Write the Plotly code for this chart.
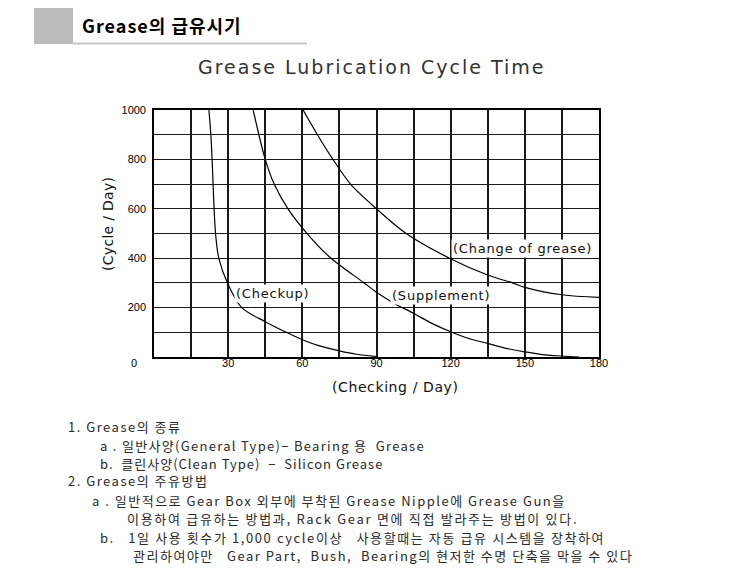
import plotly.graph_objects as go

# ---------------- data ----------------
checkup_days = [22.2, 23.0, 23.5, 23.9, 24.3, 24.9, 26.2, 29.7, 35.5, 45.0, 53.5, 60.0, 67.0, 75.0, 82.0, 90.0]
checkup_cycles = [1000, 900, 800, 700, 600, 500, 400, 300, 200, 143, 100, 70, 45, 25, 11, 2]

supplement_days = [40.1, 45.0, 48.6, 54.2, 61.5, 71.0, 85.0, 90.0, 97.0, 105.0, 112.0, 120.0, 127.0, 135.0, 142.0, 150.0, 157.0, 165.0, 172.0]
supplement_cycles = [1000, 800, 700, 600, 505, 405, 300, 262, 218, 177, 138, 102, 76, 55, 36, 21, 10, 4, 0]

change_days = [60.3, 66.1, 72.4, 79.5, 90.0, 102.0, 119.5, 135.0, 145.0, 150.0, 165.0, 180.0]
change_cycles = [1000, 900, 800, 700, 600, 500, 400, 332, 300, 282, 252, 241]

x_grid = list(range(0, 181, 15))
x_labels = ["", "", "30", "", "60", "", "90", "", "120", "", "150", "", "180"]
y_grid = list(range(0, 1001, 100))
y_labels = ["", "", "200", "", "400", "", "600", "", "800", "", "1000"]

series_labels = ["(Checkup)", "(Supplement)", "(Change of grease)"]
label_pos = [(48, 259), (116, 251), (149, 441)]

header_text = "Grease의 급유시기"
chart_title = "Grease Lubrication Cycle Time"
x_title = "(Checking / Day)"
y_title = "(Cycle / Day)"

NB = "\u00a0"
notes = [
    "1. Grease의 종류",
    "a . 일반사양(General Type)− Bearing 용" + NB * 2 + "Grease",
    "b." + NB * 2 + "클린사양(Clean Type)" + NB * 2 + "−" + NB * 2 + "Silicon Grease",
    "2. Grease의 주유방법",
    "a . 일반적으로 Gear Box 외부에 부착된 Grease Nipple에 Grease Gun을",
    "이용하여 급유하는 방법과, Rack Gear 면에 직접 발라주는 방법이 있다.",
    "b." + NB * 3 + "1일 사용 횟수가 1,000 cycle이상" + NB * 3 + "사용할때는 자동 급유 시스템을 장착하여",
    "관리하여야만" + NB * 3 + "Gear Part," + NB * 2 + "Bush," + NB * 2 + "Bearing의 현저한 수명 단축을 막을 수 있다",
]
note_x_px = [66, 98, 98, 66, 90, 125, 98, 131]
note_y_px = [426, 445, 463, 481, 500, 518, 537, 555]
note_spacing = [1.5, 1.3, 1.0, 1.5, 1.5, 1.7, 1.6, 1.5]

# ---------------- layout geometry ----------------
W, H = 756, 574
L, R, T, B = 154, 599, 110, 357


def px_to_paper(px, py):
    return (px - L) / (R - L), (B - py) / (B - T)


def spaced(text, ls):
    return '<span style="letter-spacing:%.2fpx">%s</span>' % (ls, text)


fig = go.Figure()
for xs, ys in [(checkup_days, checkup_cycles), (supplement_days, supplement_cycles), (change_days, change_cycles)]:
    fig.add_trace(go.Scatter(x=xs, y=ys, mode="lines",
                             line=dict(color="#000000", width=1.2, shape="spline", smoothing=0.9),
                             hoverinfo="skip", showlegend=False))

annotations = []
for txt, (lx, ly) in zip(series_labels, label_pos):
    annotations.append(dict(x=lx, y=ly, xref="x", yref="y", text=spaced(txt, 0.8), showarrow=False,
                            xanchor="center", yanchor="middle",
                            font=dict(family="DejaVu Sans", size=13, color="#111"),
                            bgcolor="white", borderpad=1))


def paper_text(px, py, text, font, xanchor="center", angle=0):
    x, y = px_to_paper(px, py)
    annotations.append(dict(x=x, y=y, xref="paper", yref="paper", text=text, showarrow=False,
                            xanchor=xanchor, yanchor="middle", textangle=angle, font=font))


# "0" label of y axis sits on the x-label row
paper_text(134, 363, "0", dict(family="Liberation Sans", size=11, color="#000"))
# axis titles
paper_text(395, 387, spaced(x_title, 0.6), dict(family="DejaVu Sans", size=14, color="#111"))
paper_text(108, 224, spaced(y_title, 0.3), dict(family="DejaVu Sans", size=14, color="#111"), angle=-90)
# chart title
paper_text(372, 67, spaced(chart_title, 2.0), dict(family="DejaVu Sans", size=19, color="#333"))
# header
paper_text(80, 25, "<b>" + spaced(header_text, 1.0) + "</b>",
           dict(family="Noto Sans CJK KR", size=18, color="#000"), xanchor="left")
# notes
for txt, nx, ny, ls in zip(notes, note_x_px, note_y_px, note_spacing):
    paper_text(nx, ny, spaced(txt, ls), dict(family="Noto Sans CJK KR", size=13, color="#2a2a2a"), xanchor="left")

shapes = []
x0, y0 = px_to_paper(34, 8)
x1, y1 = px_to_paper(73, 44)
shapes.append(dict(type="rect", xref="paper", yref="paper", x0=x0, y0=y0, x1=x1, y1=y1,
                   fillcolor="#bbbbbb", line=dict(width=0)))
x0, y0 = px_to_paper(73, 43.5)
x1, _ = px_to_paper(307, 43.5)
shapes.append(dict(type="line", xref="paper", yref="paper", x0=x0, y0=y0, x1=x1, y1=y0,
                   line=dict(color="#c4c4c4", width=2)))

fig.update_layout(
    width=W, height=H, autosize=False,
    margin=dict(l=L, r=W - R, t=T, b=H - B, pad=0),
    paper_bgcolor="white", plot_bgcolor="white",
    annotations=annotations, shapes=shapes,
    xaxis=dict(range=[0, 180], tickvals=x_grid, ticktext=x_labels, showgrid=True,
               gridcolor="#1a1a1a", gridwidth=1.6, showline=True, linecolor="#000", linewidth=1.6,
               mirror=True, zeroline=False, ticks="", ticklabelstandoff=-5,
               tickfont=dict(family="Liberation Sans", size=11, color="#000"), fixedrange=True),
    yaxis=dict(range=[0, 1000], tickvals=y_grid, ticktext=y_labels, showgrid=True,
               gridcolor="#1a1a1a", gridwidth=1.4, showline=True, linecolor="#000", linewidth=1.6,
               mirror=True, zeroline=False, ticks="", ticklabelstandoff=4,
               tickfont=dict(family="Liberation Sans", size=11, color="#000"), fixedrange=True),
)

fig.write_html("out.html")
